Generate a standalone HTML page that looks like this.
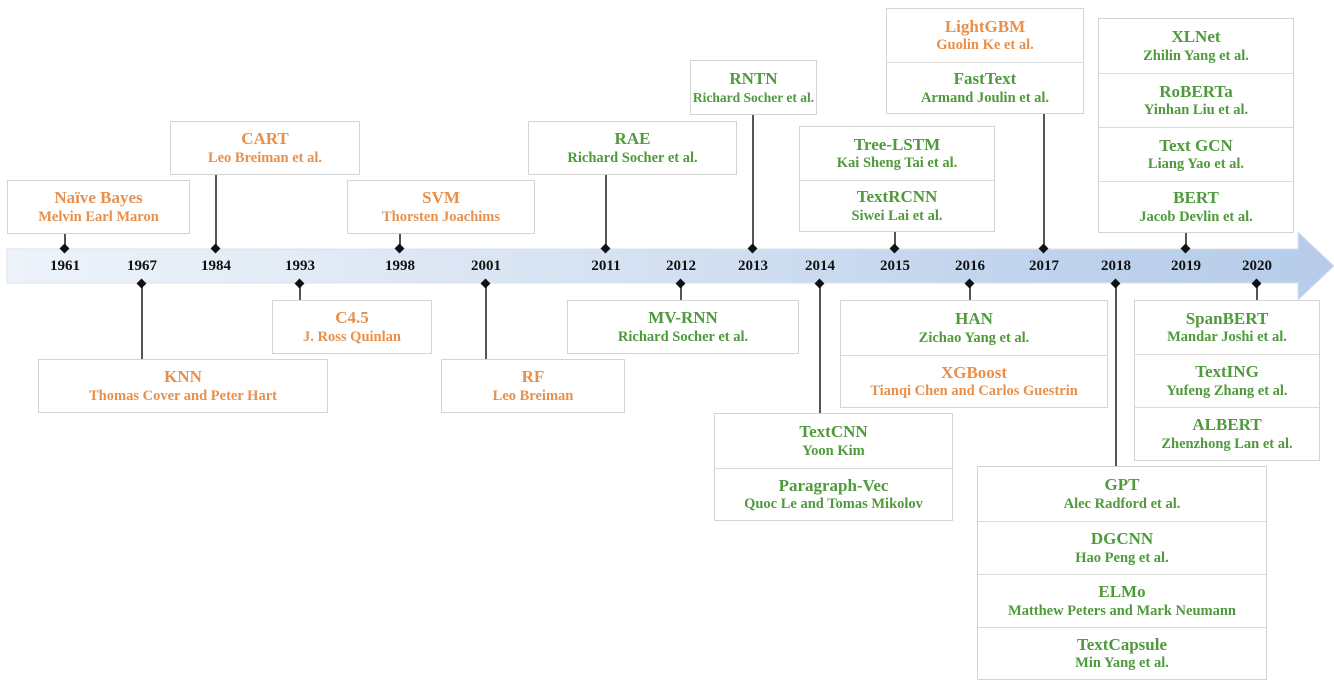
<!DOCTYPE html>
<html><head><meta charset="utf-8"><style>
body{margin:0;width:1334px;height:688px;background:#fff;position:relative;overflow:hidden;font-family:"Liberation Serif",serif;font-weight:bold}
.b{position:absolute;border:1.5px solid #d4d4d4;background:#fff;box-sizing:border-box}
.s{display:flex;flex-direction:column;justify-content:center;align-items:center;line-height:1.2;border-top:1.5px solid #dcdcdc;box-sizing:border-box;white-space:nowrap}
.s:first-child{border-top:none}
.t{font-size:17px}.a{font-size:14.5px}
.o{color:#e8904b}.g{color:#4f9a3c}
.l{position:absolute;width:2px;background:#555}
.d{position:absolute;width:7px;height:7px;background:#111;transform:rotate(45deg)}
.y{position:absolute;top:258px;font-size:15px;color:#111;width:50px;text-align:center}
</style></head><body>
<svg style="position:absolute;left:0;top:0" width="1334" height="688">
<defs><linearGradient id="gr" x1="0" x2="1"><stop offset="0" stop-color="#eef3fa"/><stop offset="0.5" stop-color="#d3e0f1"/><stop offset="0.8" stop-color="#bed2ec"/><stop offset="1" stop-color="#b7cce9"/></linearGradient></defs>
<polygon points="7,249 1298,249 1298,232 1334,266 1298,300 1298,283 7,283" fill="url(#gr)" stroke="#d8e2ef" stroke-width="1"/>
</svg>

<div class="l" style="left:64px;top:234px;height:15px"></div><div class="d" style="left:61px;top:245px"></div>
<div class="l" style="left:215px;top:175px;height:74px"></div><div class="d" style="left:212px;top:245px"></div>
<div class="l" style="left:399px;top:234px;height:15px"></div><div class="d" style="left:396px;top:245px"></div>
<div class="l" style="left:605px;top:175px;height:74px"></div><div class="d" style="left:602px;top:245px"></div>
<div class="l" style="left:752px;top:115px;height:134px"></div><div class="d" style="left:749px;top:245px"></div>
<div class="l" style="left:894px;top:232px;height:17px"></div><div class="d" style="left:891px;top:245px"></div>
<div class="l" style="left:1043px;top:114px;height:135px"></div><div class="d" style="left:1040px;top:245px"></div>
<div class="l" style="left:1185px;top:233px;height:16px"></div><div class="d" style="left:1182px;top:245px"></div>

<div class="l" style="left:141px;top:283px;height:76px"></div><div class="d" style="left:138px;top:280px"></div>
<div class="l" style="left:299px;top:283px;height:17px"></div><div class="d" style="left:296px;top:280px"></div>
<div class="l" style="left:485px;top:283px;height:76px"></div><div class="d" style="left:482px;top:280px"></div>
<div class="l" style="left:680px;top:283px;height:17px"></div><div class="d" style="left:677px;top:280px"></div>
<div class="l" style="left:819px;top:283px;height:130px"></div><div class="d" style="left:816px;top:280px"></div>
<div class="l" style="left:969px;top:283px;height:17px"></div><div class="d" style="left:966px;top:280px"></div>
<div class="l" style="left:1115px;top:283px;height:183px"></div><div class="d" style="left:1112px;top:280px"></div>
<div class="l" style="left:1256px;top:283px;height:17px"></div><div class="d" style="left:1253px;top:280px"></div>

<div class="y" style="left:40px">1961</div>
<div class="y" style="left:117px">1967</div>
<div class="y" style="left:191px">1984</div>
<div class="y" style="left:275px">1993</div>
<div class="y" style="left:375px">1998</div>
<div class="y" style="left:461px">2001</div>
<div class="y" style="left:581px">2011</div>
<div class="y" style="left:656px">2012</div>
<div class="y" style="left:728px">2013</div>
<div class="y" style="left:795px">2014</div>
<div class="y" style="left:870px">2015</div>
<div class="y" style="left:945px">2016</div>
<div class="y" style="left:1019px">2017</div>
<div class="y" style="left:1091px">2018</div>
<div class="y" style="left:1161px">2019</div>
<div class="y" style="left:1232px">2020</div>

<div class="b" style="left:7px;top:180px;width:183px;height:54px"><div class="s o" style="height:52px"><span class="t">Naïve Bayes</span><span class="a">Melvin Earl Maron</span></div></div>
<div class="b" style="left:170px;top:121px;width:190px;height:54px"><div class="s o" style="height:52px"><span class="t">CART</span><span class="a">Leo Breiman et al.</span></div></div>
<div class="b" style="left:347px;top:180px;width:188px;height:54px"><div class="s o" style="height:52px"><span class="t">SVM</span><span class="a">Thorsten Joachims</span></div></div>
<div class="b" style="left:528px;top:121px;width:209px;height:54px"><div class="s g" style="height:52px"><span class="t">RAE</span><span class="a">Richard Socher et al.</span></div></div>
<div class="b" style="left:690px;top:60px;width:127px;height:55px"><div class="s g" style="height:53px"><span class="t">RNTN</span><span class="a" style="font-size:13.5px">Richard Socher et al.</span></div></div>
<div class="b" style="left:799px;top:126px;width:196px;height:106px"><div class="s g" style="height:53px"><span class="t">Tree-LSTM</span><span class="a">Kai Sheng Tai et al.</span></div><div class="s g" style="height:51px"><span class="t">TextRCNN</span><span class="a">Siwei Lai et al.</span></div></div>
<div class="b" style="left:886px;top:8px;width:198px;height:106px"><div class="s o" style="height:53px"><span class="t">LightGBM</span><span class="a">Guolin Ke et al.</span></div><div class="s g" style="height:51px"><span class="t">FastText</span><span class="a">Armand Joulin et al.</span></div></div>
<div class="b" style="left:1098px;top:18px;width:196px;height:215px"><div class="s g" style="height:54px"><span class="t">XLNet</span><span class="a">Zhilin Yang et al.</span></div><div class="s g" style="height:54px"><span class="t">RoBERTa</span><span class="a">Yinhan Liu et al.</span></div><div class="s g" style="height:54px"><span class="t">Text GCN</span><span class="a">Liang Yao et al.</span></div><div class="s g" style="height:51px"><span class="t">BERT</span><span class="a">Jacob Devlin et al.</span></div></div>

<div class="b" style="left:38px;top:359px;width:290px;height:54px"><div class="s o" style="height:52px"><span class="t">KNN</span><span class="a">Thomas Cover and Peter Hart</span></div></div>
<div class="b" style="left:272px;top:300px;width:160px;height:54px"><div class="s o" style="height:52px"><span class="t">C4.5</span><span class="a">J. Ross Quinlan</span></div></div>
<div class="b" style="left:441px;top:359px;width:184px;height:54px"><div class="s o" style="height:52px"><span class="t">RF</span><span class="a">Leo Breiman</span></div></div>
<div class="b" style="left:567px;top:300px;width:232px;height:54px"><div class="s g" style="height:52px"><span class="t">MV-RNN</span><span class="a">Richard Socher et al.</span></div></div>
<div class="b" style="left:714px;top:413px;width:239px;height:108px"><div class="s g" style="height:54px"><span class="t">TextCNN</span><span class="a">Yoon Kim</span></div><div class="s g" style="height:52px"><span class="t">Paragraph-Vec</span><span class="a">Quoc Le and Tomas Mikolov</span></div></div>
<div class="b" style="left:840px;top:300px;width:268px;height:108px"><div class="s g" style="height:54px"><span class="t">HAN</span><span class="a">Zichao Yang et al.</span></div><div class="s o" style="height:52px"><span class="t">XGBoost</span><span class="a">Tianqi Chen and Carlos Guestrin</span></div></div>
<div class="b" style="left:1134px;top:300px;width:186px;height:161px"><div class="s g" style="height:53px"><span class="t">SpanBERT</span><span class="a">Mandar Joshi et al.</span></div><div class="s g" style="height:53px"><span class="t">TextING</span><span class="a">Yufeng Zhang et al.</span></div><div class="s g" style="height:53px"><span class="t">ALBERT</span><span class="a">Zhenzhong Lan et al.</span></div></div>
<div class="b" style="left:977px;top:466px;width:290px;height:214px"><div class="s g" style="height:54px"><span class="t">GPT</span><span class="a">Alec Radford et al.</span></div><div class="s g" style="height:53px"><span class="t">DGCNN</span><span class="a">Hao Peng et al.</span></div><div class="s g" style="height:53px"><span class="t">ELMo</span><span class="a">Matthew Peters and Mark Neumann</span></div><div class="s g" style="height:52px"><span class="t">TextCapsule</span><span class="a">Min Yang et al.</span></div></div>
</body></html>
